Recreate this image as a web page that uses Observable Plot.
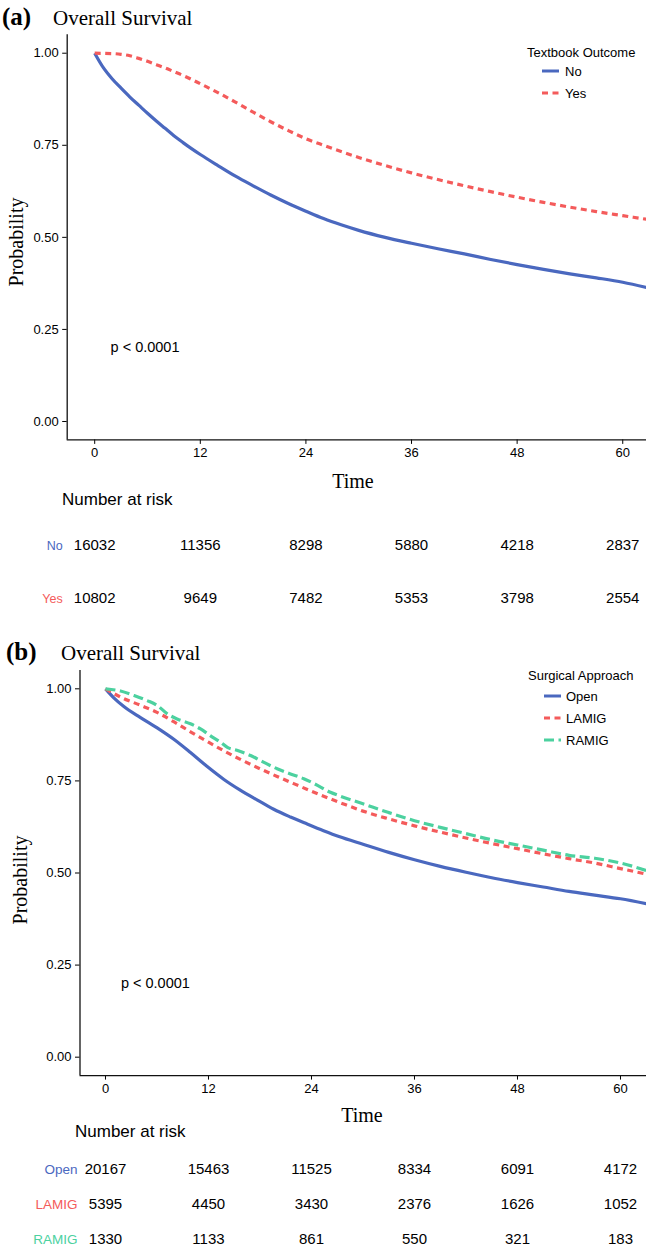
<!DOCTYPE html>
<html>
<head>
<meta charset="utf-8">
<script src="https://cdn.jsdelivr.net/npm/d3@7"></script>
<script src="https://cdn.jsdelivr.net/npm/@observablehq/plot@0.6"></script>
<style>
  html, body { margin: 0; padding: 0; background: #fff; }
  #root { position: relative; width: 646px; height: 1249px; overflow: hidden; background: #fff; }
  #root > svg { position: absolute; left: 0; }
</style>
</head>
<body>
<div id="root"></div>
<script>
// ---------------- DATA ----------------
const xTicks = [0, 12, 24, 36, 48, 60];
const yTicks = [0, 0.25, 0.5, 0.75, 1];
const pvalText = "p < 0.0001";

// Panel (a): Textbook Outcome
const legendTitleA = "Textbook Outcome";
const groupsA = ["No", "Yes"];
const tNo  = [0, 1, 2, 3, 4, 5, 6, 7, 8, 9, 10, 11, 12, 14, 16, 18, 20, 22, 24, 26, 28, 30, 33, 36, 39, 42, 45, 48, 51, 54, 57, 60, 63];
const sNo  = [1, 0.960, 0.930, 0.905, 0.881, 0.859, 0.837, 0.816, 0.796, 0.776, 0.758, 0.741, 0.725, 0.695, 0.666, 0.640, 0.615, 0.592, 0.571, 0.551, 0.534, 0.519, 0.500, 0.484, 0.469, 0.455, 0.440, 0.426, 0.413, 0.401, 0.390, 0.378, 0.362];
const tYes = [0, 2, 3, 4, 5, 6, 7, 8, 9, 10, 11, 12, 14, 16, 18, 20, 22, 24, 26, 28, 30, 33, 36, 39, 42, 45, 48, 51, 54, 57, 60, 63];
const sYes = [1, 0.999, 0.997, 0.993, 0.986, 0.978, 0.969, 0.960, 0.950, 0.940, 0.929, 0.917, 0.893, 0.867, 0.840, 0.814, 0.790, 0.768, 0.750, 0.733, 0.717, 0.695, 0.675, 0.657, 0.640, 0.624, 0.609, 0.595, 0.582, 0.570, 0.559, 0.548];
const riskNo  = [16032, 11356, 8298, 5880, 4218, 2837];
const riskYes = [10802, 9649, 7482, 5353, 3798, 2554];

// Panel (b): Surgical Approach
const legendTitleB = "Surgical Approach";
const groupsB = ["Open", "LAMIG", "RAMIG"];
const tOpen  = [0, 1, 2.14, 4.08, 6.02, 7.96, 9.9, 11.85, 13.8, 15.7, 17.7, 19.6, 21.55, 23.5, 25.4, 27.2, 30, 33, 36, 39, 42, 45, 48, 51, 54, 57, 60, 63];
const sOpen  = [1, 0.975, 0.952, 0.922, 0.894, 0.863, 0.827, 0.789, 0.754, 0.725, 0.698, 0.673, 0.652, 0.633, 0.615, 0.599, 0.578, 0.556, 0.536, 0.518, 0.502, 0.487, 0.474, 0.462, 0.450, 0.440, 0.430, 0.417];
const tLAMIG = [0, 2, 4, 6, 8, 10, 12, 14, 16, 18, 20, 22, 24, 26, 28, 30, 33, 36, 39, 42, 45, 48, 51, 54, 57, 60, 63];
const sLAMIG = [1, 0.975, 0.956, 0.936, 0.910, 0.882, 0.855, 0.829, 0.805, 0.783, 0.762, 0.742, 0.722, 0.703, 0.685, 0.668, 0.647, 0.628, 0.611, 0.595, 0.580, 0.566, 0.552, 0.539, 0.527, 0.512, 0.497];
const tRAMIG = [0, 1.75, 3.3, 4.86, 6.02, 7.2, 8.35, 9.9, 11.07, 12.2, 13.4, 14.2, 15.3, 16.9, 18.4, 20, 21.55, 23.1, 24.7, 26.2, 27.2, 30, 33, 36, 39, 42, 45, 48, 51, 54, 57, 60, 63];
const sRAMIG = [1, 0.994, 0.982, 0.968, 0.955, 0.932, 0.918, 0.905, 0.891, 0.873, 0.855, 0.841, 0.833, 0.819, 0.801, 0.783, 0.769, 0.756, 0.738, 0.719, 0.710, 0.688, 0.664, 0.642, 0.624, 0.607, 0.590, 0.576, 0.562, 0.548, 0.540, 0.527, 0.507];
const riskOpen  = [20167, 15463, 11525, 8334, 6091, 4172];
const riskLAMIG = [5395, 4450, 3430, 2376, 1626, 1052];
const riskRAMIG = [1330, 1133, 861, 550, 321, 183];

// ---------------- STYLE ----------------
const SANS = "'Liberation Sans', Arial, Helvetica, sans-serif";
const SERIF = "'Liberation Serif', 'Times New Roman', Times, serif";
const BLUE = "#4A68BF", RED = "#F45B5B", GREEN = "#4CD19F";
const DASH_RED = "6,4.5", DASH_GREEN = "10,4.5";

const root = document.getElementById("root");

function survPlot(cfg) {
  const marks = [
    Plot.axisY({ticks: yTicks, tickFormat: d => d.toFixed(2), tickSize: 4.5, tickPadding: 4, fontSize: 13, label: null}),
    Plot.axisX({ticks: xTicks, tickSize: 4.5, tickPadding: 3.5, fontSize: 13, label: null}),
    Plot.ruleX([cfg.xDomain[0]], {stroke: "#111", strokeWidth: 1.3}),
    Plot.ruleY([-0.05], {stroke: "#111", strokeWidth: 1.3})
  ];
  cfg.series.forEach(s => {
    const rows = s.t.map((t, i) => ({t, s: s.s[i]}));
    marks.push(Plot.line(rows, {x: "t", y: "s", stroke: s.color, strokeWidth: 3.2,
      strokeDasharray: s.dash, strokeLinecap: "butt", curve: "monotone-x", clip: true}));
  });
  marks.push(Plot.text([pvalText], {x: () => cfg.pval[0], y: () => cfg.pval[1], text: d => d,
    textAnchor: "start", fontSize: 14.5, fill: "#000"}));
  const svg = Plot.plot({
    width: 646, height: cfg.height,
    marginLeft: cfg.marginLeft, marginRight: 0, marginTop: cfg.marginTop, marginBottom: cfg.marginBottom,
    x: {domain: cfg.xDomain},
    y: {domain: [-0.05, 1.05]},
    style: {fontFamily: SANS, color: "#000", background: "transparent", overflow: "visible"},
    marks
  });
  svg.style.top = cfg.top + "px";
  root.appendChild(svg);
}

function riskPlot(cfg) {
  const rows = [];
  cfg.groups.forEach((g, gi) => xTicks.forEach((t, i) => rows.push({g, t, n: cfg.counts[gi][i]})));
  const marks = [Plot.text(rows, {x: "t", y: "g", text: d => String(d.n), fontSize: 15, fill: "#000"})];
  cfg.groups.forEach((g, gi) => {
    marks.push(Plot.text([g], {x: () => cfg.xDomain[0], y: d => d, text: d => d, textAnchor: "end",
      dx: cfg.labelDx, fill: cfg.colors[gi], fontSize: cfg.labelSize}));
  });
  const svg = Plot.plot({
    width: 646, height: cfg.height,
    marginLeft: cfg.marginLeft, marginRight: 0, marginTop: cfg.marginTop, marginBottom: cfg.marginBottom,
    x: {domain: cfg.xDomain, axis: null},
    y: {type: "point", domain: cfg.groups, padding: 0, axis: null},
    style: {fontFamily: SANS, color: "#000", background: "transparent", overflow: "visible"},
    marks
  });
  svg.style.top = cfg.top + "px";
  root.appendChild(svg);
}

const xDomainA = [-3.125, 62.7];
const xDomainB = [-2.97, 63.03];

survPlot({top: 0, height: 470, marginLeft: 66.7, marginTop: 34.3, marginBottom: 30.6, xDomain: xDomainA,
  pval: [1.8, 0.2],
  series: [
    {t: tNo, s: sNo, color: BLUE, dash: null},
    {t: tYes, s: sYes, color: RED, dash: DASH_RED}
  ]});
riskPlot({top: 520, height: 100, marginLeft: 66.7, marginTop: 25, marginBottom: 22, xDomain: xDomainA,
  groups: groupsA, counts: [riskNo, riskYes], colors: [BLUE, RED], labelDx: -4.5, labelSize: 12.5});

survPlot({top: 640, height: 460, marginLeft: 79.5, marginTop: 29.9, marginBottom: 24.9, xDomain: xDomainB,
  pval: [1.8, 0.2],
  series: [
    {t: tOpen, s: sOpen, color: BLUE, dash: null},
    {t: tLAMIG, s: sLAMIG, color: RED, dash: DASH_RED},
    {t: tRAMIG, s: sRAMIG, color: GREEN, dash: DASH_GREEN}
  ]});
riskPlot({top: 1140, height: 109, marginLeft: 79.5, marginTop: 28, marginBottom: 10, xDomain: xDomainB,
  groups: groupsB, counts: [riskOpen, riskLAMIG, riskRAMIG], colors: [BLUE, RED, GREEN], labelDx: -2.5, labelSize: 13.5});

// ---------------- ANNOTATIONS (titles, axis titles, legends) ----------------
const NS = "http://www.w3.org/2000/svg";
const ov = document.createElementNS(NS, "svg");
ov.setAttribute("width", 646); ov.setAttribute("height", 1249);
ov.style.top = "0px"; ov.style.pointerEvents = "none";
root.appendChild(ov);
function txt(x, y, s, o = {}) {
  const t = document.createElementNS(NS, "text");
  t.setAttribute("x", x); t.setAttribute("y", y);
  t.setAttribute("font-family", o.family || SANS);
  t.setAttribute("font-size", o.size || 13);
  if (o.weight) t.setAttribute("font-weight", o.weight);
  if (o.anchor) t.setAttribute("text-anchor", o.anchor);
  if (o.transform) t.setAttribute("transform", o.transform);
  t.setAttribute("fill", o.fill || "#000");
  t.textContent = s;
  ov.appendChild(t);
}
function seg(x1, x2, y, color, dash) {
  const l = document.createElementNS(NS, "line");
  l.setAttribute("x1", x1); l.setAttribute("x2", x2); l.setAttribute("y1", y); l.setAttribute("y2", y);
  l.setAttribute("stroke", color); l.setAttribute("stroke-width", 3);
  if (dash) l.setAttribute("stroke-dasharray", dash);
  ov.appendChild(l);
}

// Panel a
txt(2, 25, "(a)", {family: SERIF, size: 25, weight: "bold"});
txt(53, 25, "Overall Survival", {family: SERIF, size: 21});
txt(0, 0, "Probability", {family: SERIF, size: 20, anchor: "middle", transform: "translate(23,242) rotate(-90)"});
txt(353, 488, "Time", {family: SERIF, size: 20, anchor: "middle"});
txt(62, 505, "Number at risk", {size: 17});
txt(527, 56.5, legendTitleA, {size: 13});
seg(542, 559, 71, BLUE, null); txt(565, 75.5, groupsA[0], {size: 13});
seg(542, 559, 93, RED, DASH_RED); txt(565, 97.5, groupsA[1], {size: 13});

// Panel b
txt(6, 660, "(b)", {family: SERIF, size: 25, weight: "bold"});
txt(61, 660, "Overall Survival", {family: SERIF, size: 21});
txt(0, 0, "Probability", {family: SERIF, size: 20, anchor: "middle", transform: "translate(27,880) rotate(-90)"});
txt(362, 1122, "Time", {family: SERIF, size: 20, anchor: "middle"});
txt(75, 1137, "Number at risk", {size: 17});
txt(528, 679.5, legendTitleB, {size: 13});
seg(544, 561, 696, BLUE, null); txt(566, 700.5, groupsB[0], {size: 13});
seg(544, 561, 718, RED, DASH_RED); txt(566, 722.5, groupsB[1], {size: 13});
seg(544, 561, 740, GREEN, DASH_GREEN); txt(566, 744.5, groupsB[2], {size: 13});
</script>
</body>
</html>
